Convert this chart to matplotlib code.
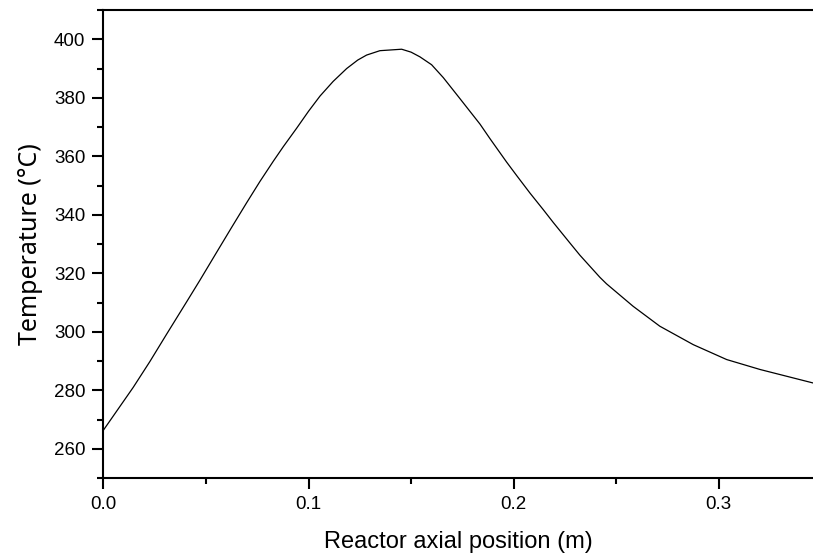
import numpy as np
import matplotlib as mpl
mpl.use('Agg')
import matplotlib.pyplot as plt
from matplotlib.ticker import MultipleLocator

plt.rcParams['font.family'] = ['Liberation Sans', 'DejaVu Sans']

# axial position (m) and temperature (C)
position = [0.0, 0.0145, 0.0226, 0.0308, 0.0406, 0.0470, 0.0552, 0.0625, 0.0698,
            0.0763, 0.0828, 0.0877, 0.0942, 0.1000, 0.1056, 0.1120, 0.1186, 0.1240,
            0.1283, 0.1348, 0.1454, 0.1500, 0.1543, 0.1600, 0.1657, 0.1735, 0.1836,
            0.1885, 0.1966, 0.2015, 0.2080, 0.2144, 0.2193, 0.2274, 0.2323, 0.2421,
            0.2453, 0.2583, 0.2713, 0.2876, 0.3039, 0.3202, 0.3331, 0.3460]
temperature = [266.4, 281.0, 289.8, 299.2, 310.3, 317.6, 327.2, 335.7, 344.1,
               351.4, 358.3, 363.3, 369.6, 375.4, 380.6, 385.6, 390.0, 392.9,
               394.6, 396.1, 396.6, 395.6, 394.0, 391.3, 386.9, 380.0, 371.0,
               366.0, 358.0, 353.4, 347.4, 341.8, 337.4, 330.4, 326.2, 318.6,
               316.4, 308.7, 301.9, 295.6, 290.5, 287.1, 284.8, 282.5]

fig = plt.figure(figsize=(8.13, 5.57), dpi=100)
ax = fig.add_axes([0.1273, 0.1418, 0.8727, 0.8402])
ax.plot(position, temperature, color='black', linewidth=0.9)

ax.set_xlim(0, 0.346)
ax.set_ylim(250, 410)
ax.xaxis.set_major_locator(MultipleLocator(0.1))
ax.xaxis.set_minor_locator(MultipleLocator(0.05))
ax.yaxis.set_major_locator(MultipleLocator(20))
ax.yaxis.set_minor_locator(MultipleLocator(10))
ax.xaxis.set_major_formatter(mpl.ticker.FormatStrFormatter('%.1f'))

ax.spines['right'].set_visible(False)
for s in ['left', 'bottom', 'top']:
    ax.spines[s].set_linewidth(1.5)
ax.tick_params(which='major', direction='out', length=8, width=1.5, labelsize=13.5, pad=5)
ax.tick_params(which='minor', direction='out', length=4.5, width=1.5)
ax.tick_params(top=False, right=False, which='both')

ax.set_xlabel('Reactor axial position (m)', fontsize=17, labelpad=13)
ax.set_ylabel('Temperature (°C)', fontsize=18, labelpad=8,
              fontfamily=['Noto Sans', 'DejaVu Sans'])

plt.savefig('out.png', dpi=100)
